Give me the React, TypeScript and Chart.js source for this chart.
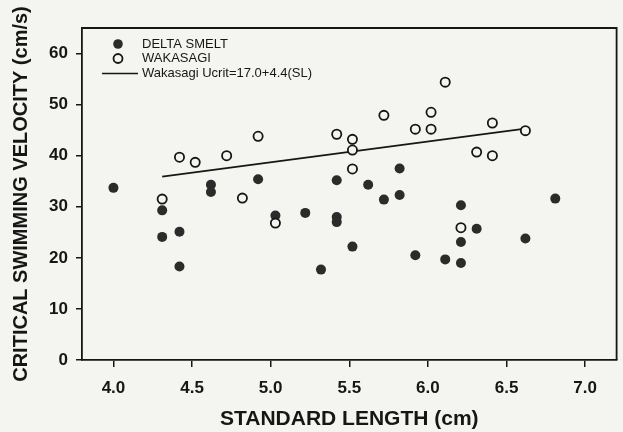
import React, { useEffect, useRef } from "react";
import { Chart, registerables } from "chart.js";

Chart.register(...registerables);

const xTicks = [4.0, 4.5, 5.0, 5.5, 6.0, 6.5, 7.0];
const yTicks = [0, 10, 20, 30, 40, 50, 60];

const deltaSmeltSL = [4.0, 4.31, 4.31, 4.42, 4.42, 4.62, 4.62, 4.92, 5.03, 5.22, 5.32, 5.42, 5.42, 5.42, 5.52, 5.62, 5.72, 5.82, 5.82, 5.92, 6.11, 6.21, 6.21, 6.21, 6.31, 6.62, 6.81];
const deltaSmeltUcrit = [33.7, 29.3, 24.1, 25.1, 18.3, 34.3, 32.9, 35.4, 28.3, 28.8, 17.7, 35.2, 28.0, 27.0, 22.2, 34.3, 31.4, 37.5, 32.3, 20.5, 19.7, 19.0, 23.1, 30.3, 25.7, 23.8, 31.6];

const wakasagiSL = [4.31, 4.42, 4.52, 4.72, 4.82, 4.92, 5.03, 5.42, 5.52, 5.52, 5.52, 5.72, 5.92, 6.02, 6.02, 6.11, 6.21, 6.31, 6.41, 6.41, 6.62];
const wakasagiUcrit = [31.5, 39.7, 38.7, 40.0, 31.7, 43.8, 26.8, 44.2, 43.2, 41.1, 37.4, 47.9, 45.2, 48.5, 45.2, 54.4, 25.9, 40.7, 46.4, 40.0, 44.9];

const fitSL = [4.31, 6.62];
const fitUcrit = [35.9, 45.3];

const seriesLabels = ["DELTA SMELT", "WAKASAGI", "Wakasagi Ucrit=17.0+4.4(SL)"];
const xTitle = "STANDARD LENGTH (cm)";
const yTitle = "CRITICAL SWIMMING VELOCITY (cm/s)";

const FONT = "'Liberation Sans', Arial, Helvetica, sans-serif";
const BG = "#f4f4f0";
const INK = "#161616";
const DOT = "#2b2b2b";

const pts = (xs: number[], ys: number[]) => xs.map((x, i) => ({ x, y: ys[i] }));

const framePlugin = {
  id: "frame",
  beforeDraw(chart: any) {
    const { ctx } = chart;
    ctx.save();
    ctx.fillStyle = BG;
    ctx.fillRect(0, 0, chart.width, chart.height);
    ctx.restore();
  },
  afterDraw(chart: any) {
    const { ctx, chartArea: a } = chart;
    ctx.save();
    ctx.strokeStyle = INK;
    ctx.lineWidth = 1.8;
    ctx.beginPath();
    ctx.moveTo(a.left, a.top);
    ctx.lineTo(a.right, a.top);
    ctx.lineTo(a.right, a.bottom);
    ctx.stroke();

    // legend
    const lx = a.left + 36;
    const tx = a.left + 60;
    const y1 = a.top + 16;
    const y2 = a.top + 30.5;
    const y3 = a.top + 45.5;
    ctx.fillStyle = DOT;
    ctx.beginPath();
    ctx.arc(lx, y1, 4.8, 0, Math.PI * 2);
    ctx.fill();
    ctx.strokeStyle = INK;
    ctx.lineWidth = 1.8;
    ctx.beginPath();
    ctx.arc(lx, y2, 4.5, 0, Math.PI * 2);
    ctx.stroke();
    ctx.lineWidth = 1.5;
    ctx.beginPath();
    ctx.moveTo(a.left + 20, y3);
    ctx.lineTo(a.left + 56, y3);
    ctx.stroke();
    ctx.fillStyle = INK;
    ctx.font = `13px ${FONT}`;
    ctx.textAlign = "left";
    ctx.textBaseline = "middle";
    ctx.fillText(seriesLabels[0], tx, y1);
    ctx.fillText(seriesLabels[1], tx, y2);
    ctx.fillText(seriesLabels[2], tx, y3);
    ctx.restore();
  },
};

export default function App() {
  const ref = useRef<HTMLCanvasElement | null>(null);

  useEffect(() => {
    if (!ref.current) return;
    const chart = new Chart(ref.current, {
      type: "scatter",
      data: {
        datasets: [
          {
            type: "line",
            label: seriesLabels[2],
            data: pts(fitSL, fitUcrit),
            borderColor: INK,
            borderWidth: 1.6,
            pointRadius: 0,
            fill: false,
            order: 3,
          } as any,
          {
            label: seriesLabels[0],
            data: pts(deltaSmeltSL, deltaSmeltUcrit),
            backgroundColor: DOT,
            borderColor: DOT,
            borderWidth: 0,
            pointRadius: 5,
            order: 2,
          },
          {
            label: seriesLabels[1],
            data: pts(wakasagiSL, wakasagiUcrit),
            backgroundColor: BG,
            borderColor: INK,
            borderWidth: 1.8,
            pointRadius: 4.6,
            order: 1,
          },
        ],
      },
      options: {
        animation: false,
        responsive: false,
        events: [],
        layout: { padding: { top: 28, right: 6, left: 0, bottom: 0 } },
        plugins: {
          legend: { display: false },
          tooltip: { enabled: false },
        },
        scales: {
          x: {
            type: "linear",
            min: 3.8,
            max: 7.2,
            afterBuildTicks: (s: any) => {
              s.ticks = xTicks.map((v) => ({ value: v }));
            },
            afterFit: (s: any) => {
              s.height = 72;
            },
            ticks: {
              callback: (v: any) => Number(v).toFixed(1),
              font: { family: FONT, size: 17, weight: "bold" },
              color: INK,
              padding: 11,
              maxRotation: 0,
              autoSkip: false,
            },
            grid: {
              drawOnChartArea: false,
              drawTicks: true,
              tickLength: 7,
              color: INK,
              lineWidth: 1.5,
            },
            border: { display: true, color: INK, width: 1.8 },
            title: {
              display: true,
              text: xTitle,
              font: { family: FONT, size: 21, weight: "bold" },
              color: INK,
              padding: { top: 0, bottom: 0 },
            },
          },
          y: {
            type: "linear",
            min: 0,
            max: 65,
            afterBuildTicks: (s: any) => {
              s.ticks = yTicks.map((v) => ({ value: v }));
            },
            afterFit: (s: any) => {
              s.width = 82;
            },
            ticks: {
              font: { family: FONT, size: 17, weight: "bold" },
              color: INK,
              padding: 8,
            },
            grid: {
              drawOnChartArea: false,
              drawTicks: true,
              tickLength: 6,
              color: INK,
              lineWidth: 1.5,
            },
            border: { display: true, color: INK, width: 1.8 },
            title: {
              display: true,
              text: yTitle,
              font: { family: FONT, size: 20, weight: "bold" },
              color: INK,
              padding: { top: 9, bottom: 0 },
            },
          },
        },
      },
      plugins: [framePlugin],
    });
    return () => chart.destroy();
  }, []);

  return (
    <div style={{ position: "absolute", left: 0, top: 0, width: 623, height: 432, background: BG }}>
      <canvas ref={ref} width={623} height={432} style={{ display: "block", width: 623, height: 432 }} />
    </div>
  );
}
